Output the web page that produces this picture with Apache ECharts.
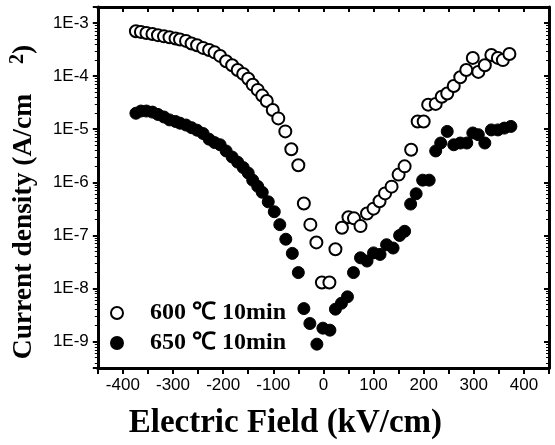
<!DOCTYPE html>
<html>
<head>
<meta charset="utf-8">
<script src="https://cdn.jsdelivr.net/npm/echarts@6/dist/echarts.min.js"></script>
<style>
  html, body { margin: 0; padding: 0; background: #fff; }
  #chart { width: 555px; height: 445px; }
</style>
</head>
<body>
<div id="chart"></div>
<script>
// 600 ℃ 10min (open circles)
const openE = [-374, -364, -353, -341, -330, -318, -307, -295, -286, -274, -263, -252, -240, -228, -217, -206, -194, -182, -171, -160, -150, -141,
  -131, -122, -113, -101, -90, -76, -64, -50, -39, -26, -14, -3,
  12, 24, 37, 50, 61, 74, 87, 100, 112, 123, 136, 150, 162, 175, 188, 200,
  209, 224, 236, 247, 260, 273, 285, 298, 309, 322, 335, 348, 358, 371]
const openJ = [7.0e-4, 6.8e-4, 6.5e-4, 6.2e-4, 5.9e-4, 5.6e-4, 5.4e-4, 5.1e-4, 4.9e-4, 4.6e-4, 4.1e-4, 3.8e-4, 3.4e-4, 3.1e-4, 2.8e-4, 2.4e-4, 1.9e-4, 1.6e-4, 1.3e-4, 1.1e-4, 8.9e-5, 6.9e-5,
  5.5e-5, 4.3e-5, 3.4e-5, 2.3e-5, 1.6e-5, 9.1e-6, 4.2e-6, 2.1e-6, 4.0e-7, 1.6e-7, 7.4e-8, 1.3e-8,
  1.3e-8, 5.5e-8, 1.4e-7, 2.2e-7, 2.1e-7, 1.5e-7, 2.6e-7, 3.2e-7, 4.4e-7, 6.2e-7, 8.3e-7, 1.4e-6, 2.0e-6, 4.1e-6, 1.4e-5, 1.4e-5,
  2.9e-5, 3.0e-5, 4.1e-5, 4.7e-5, 6.5e-5, 9.5e-5, 1.3e-4, 2.2e-4, 1.2e-4, 1.6e-4, 2.5e-4, 2.2e-4, 2.0e-4, 2.6e-4]

// 650 ℃ 10min (filled circles)
const filledE = [-374, -364, -353, -341, -330, -318, -307, -295, -286, -274, -263, -252, -240, -228, -217, -206, -194, -182, -171, -160, -150, -141,
  -131, -122, -110, -98, -87, -75, -62, -50, -39, -27, -13, -1, 13,
  24, 36, 48, 60, 74, 87, 100, 113, 126, 139, 152, 162, 174, 185, 198, 211, 224, 234, 247, 260, 273, 286, 298, 309, 322, 335, 348, 361, 374]
const filledJ = [2.0e-5, 2.2e-5, 2.2e-5, 2.1e-5, 1.9e-5, 1.7e-5, 1.5e-5, 1.4e-5, 1.3e-5, 1.2e-5, 1.07e-5, 9.6e-6, 8.3e-6, 6.5e-6, 5.6e-6, 5.1e-6, 3.9e-6, 3.0e-6, 2.4e-6, 1.9e-6, 1.5e-6, 1.1e-6,
  8.4e-7, 6.5e-7, 4.3e-7, 2.8e-7, 1.6e-7, 8.5e-8, 4.6e-8, 2.0e-8, 4.2e-9, 2.2e-9, 9.0e-10, 1.8e-9, 1.65e-9,
  4.1e-9, 5.3e-9, 7.0e-9, 2.0e-8, 3.8e-8, 3.3e-8, 4.7e-8, 4.4e-8, 6.7e-8, 5.8e-8, 1.0e-7, 1.2e-7, 3.9e-7, 6.1e-7, 1.1e-6, 1.1e-6, 3.9e-6, 5.5e-6, 9.1e-6, 5.1e-6, 5.5e-6, 5.5e-6, 8.5e-6, 7.9e-6, 5.5e-6, 9.7e-6, 9.7e-6, 1.05e-5, 1.13e-5]

const seriesNames = ['600 ℃ 10min', '650 ℃ 10min']

const serif = "'Liberation Serif', 'Times New Roman', serif"
const sans = "'Liberation Sans', Arial, sans-serif"
const frame = { show: true, onZero: false, lineStyle: { color: '#000', width: 3 } }

const c = echarts.init(document.getElementById('chart'), null, { renderer: 'canvas' })

const xBase = { type: 'value', min: -450, max: 450, interval: 50, splitLine: { show: false } }
const yBase = { type: 'log', logBase: 10, min: 3.2e-10, max: 2e-3, splitLine: { show: false } }

c.setOption({
  animation: false,
  grid: { left: 91, right: 6, top: 7, bottom: 72 },
  legend: {
    orient: 'vertical', left: 105, top: 294, itemGap: 2, itemWidth: 12, itemHeight: 12,
    data: seriesNames,
    textStyle: { fontFamily: serif, fontWeight: 'bold', fontSize: 24, color: '#000', lineHeight: 18, padding: [10, 0, 0, 22] },
  },
  xAxis: [
    {
      ...xBase, position: 'bottom',
      axisLine: frame,
      axisTick: { show: true, inside: false, length: 6, lineStyle: { color: '#000', width: 2 } },
      axisLabel: {
        color: '#000', fontFamily: sans, fontSize: 17, margin: 9,
        formatter: v => (v % 100 === 0 ? String(v) : ''),
      },
      name: 'Electric Field (kV/cm)', nameLocation: 'middle', nameGap: 39,
      nameTextStyle: { fontFamily: serif, fontWeight: 'bold', fontSize: 33, color: '#000', padding: [0, 76, 0, 0] },
    },
    {
      ...xBase, position: 'top',
      axisLine: frame,
      axisTick: { show: true, inside: true, length: 5, lineStyle: { color: '#000', width: 2 } },
      axisLabel: { show: false },
    },
  ],
  yAxis: [
    {
      ...yBase, position: 'left',
      axisLine: frame,
      axisTick: { show: true, inside: false, length: 5, lineStyle: { color: '#000', width: 2 } },
      minorTick: { show: true, splitNumber: 9, length: 3, lineStyle: { color: '#000', width: 1 } },
      axisLabel: {
        color: '#000', fontFamily: sans, fontSize: 17, margin: 9, showMinLabel: false, showMaxLabel: false,
        formatter: v => '1E' + Math.round(Math.log10(v)),
      },
      name: '{a|Current density (A/cm}{b|      2}{a|)}', nameLocation: 'middle', nameGap: 48,
      nameTextStyle: {
        padding: [0, 29, 0, 0],
        rich: {
          a: { fontFamily: serif, fontWeight: 'bold', fontSize: 27.5, color: '#000', lineHeight: 32 },
          b: { fontFamily: serif, fontWeight: 'bold', fontSize: 20, color: '#000', lineHeight: 32, verticalAlign: 'top', padding: [0, 0, 14, 0] },
        },
      },
    },
    {
      ...yBase, position: 'right',
      axisLine: frame,
      axisTick: { show: true, inside: true, length: 5, lineStyle: { color: '#000', width: 2 } },
      minorTick: { show: true, splitNumber: 9, length: 3, lineStyle: { color: '#000', width: 1 } },
      axisLabel: { show: false },
    },
  ],
  series: [
    {
      name: seriesNames[1], type: 'scatter', symbol: 'circle', symbolSize: 12,
      data: filledE.map((e, i) => [e, filledJ[i]]),
      itemStyle: { color: '#000', borderColor: '#000', borderWidth: 1, opacity: 1 },
    },
    {
      name: seriesNames[0], type: 'scatter', symbol: 'circle', symbolSize: 12,
      data: openE.map((e, i) => [e, openJ[i]]),
      itemStyle: { color: '#fff', borderColor: '#000', borderWidth: 2, opacity: 1 },
    },
  ],
})
</script>
</body>
</html>
